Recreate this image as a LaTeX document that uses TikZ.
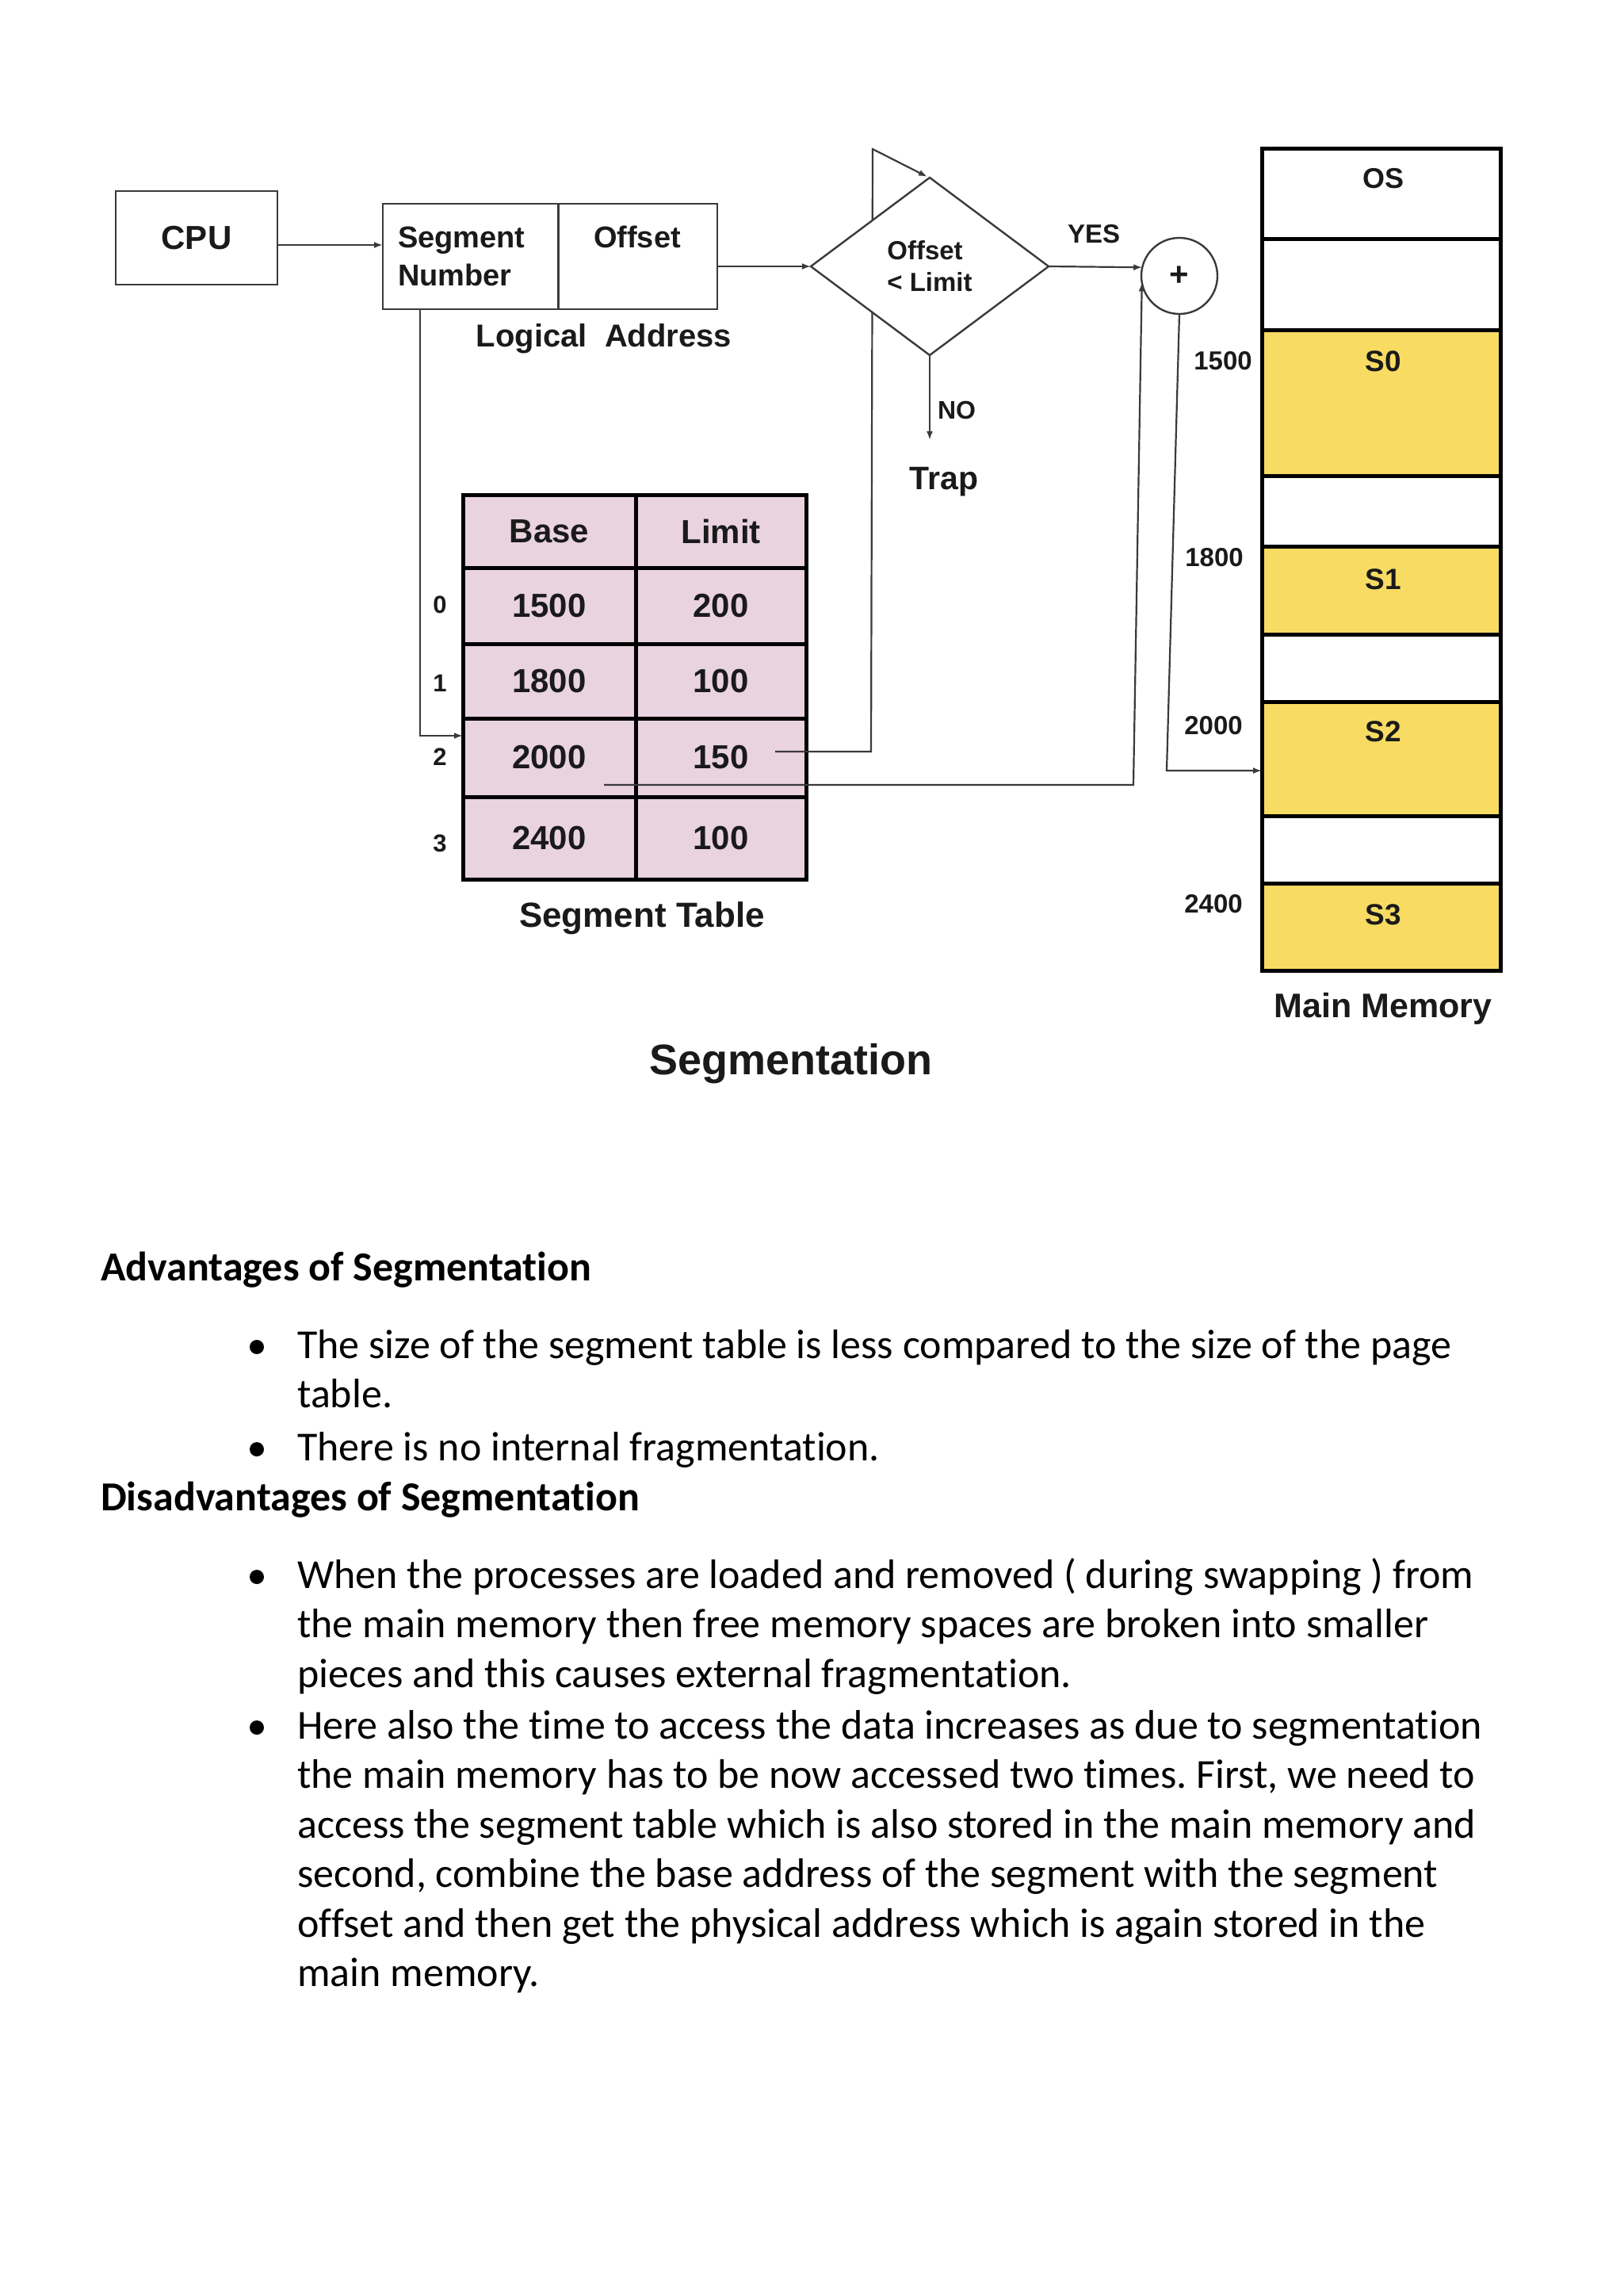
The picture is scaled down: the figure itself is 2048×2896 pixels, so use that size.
\documentclass[tikz,border=0pt]{standalone}
\usepackage{fontspec}
\setmainfont{Carlito}[Ligatures=NoCommon]
\newfontfamily\arialf{Liberation Sans}
\usetikzlibrary{shapes.geometric,arrows.meta}
\newcommand\fsz[2]{\fontsize{#1}{#2}\selectfont}
\definecolor{memyel}{HTML}{F7DB63}
\definecolor{tblpink}{HTML}{E9D3DF}
\definecolor{ink}{HTML}{1A1A1A}
\definecolor{wire}{HTML}{3A3A3A}
\frenchspacing
\begin{document}
\begin{tikzpicture}[x=1pt,y=-1pt,
  arr/.style={draw=wire, line width=2.2pt, -{Latex[length=11pt,width=8pt]}},
  dgm/.style={font=\arialf\bfseries, text=ink, inner sep=0pt, outer sep=0pt},
  box/.style={draw=wire, line width=2.6pt, rectangle, inner sep=0pt, outer sep=0pt},
  cell/.style={draw=black, line width=5pt, fill=tblpink, rectangle, inner sep=0pt, outer sep=0pt, font=\arialf\bfseries\fsz{42}{50}, text=ink},
  memb/.style={draw=black, line width=5pt, rectangle, minimum width=301pt, inner sep=0pt, outer sep=0pt},
  body/.style={font=\fsz{52}{62}, anchor=base west, inner sep=0pt, text=black},
  head/.style={font=\bfseries\fsz{52}{62}, anchor=base west, inner sep=0pt, text=black},
  bul/.style={circle, fill=black, minimum size=18pt, inner sep=0pt},
]
\fill[white] (0,0) rectangle (2048,2896);
\useasboundingbox (0,0) rectangle (2048,2896);

% ---------- main memory ----------
\node[memb, fill=white,  minimum height=114pt] (mOS) at (1742.5,244) {};
\node[memb, fill=white,  minimum height=115pt] (mE1) at (1742.5,358.5) {};
\node[memb, fill=memyel, minimum height=184pt] (mS0) at (1742.5,508) {};
\node[memb, fill=white,  minimum height=89pt]  (mE2) at (1742.5,644.5) {};
\node[memb, fill=memyel, minimum height=111pt] (mS1) at (1742.5,744.5) {};
\node[memb, fill=white,  minimum height=85pt]  (mE3) at (1742.5,842.5) {};
\node[memb, fill=memyel, minimum height=144pt] (mS2) at (1742.5,957) {};
\node[memb, fill=white,  minimum height=85pt]  (mE4) at (1742.5,1071.5) {};
\node[memb, fill=memyel, minimum height=110pt] (mS3) at (1742.5,1169) {};
\node[dgm, font=\arialf\bfseries\fsz{36}{40}] (lOS) at (1745,225) {OS};
\node[dgm, font=\arialf\bfseries\fsz{37}{40}] (lS0) at (1745,456) {S0};
\node[dgm, font=\arialf\bfseries\fsz{37}{40}] (lS1) at (1745,731) {S1};
\node[dgm, font=\arialf\bfseries\fsz{37}{40}] (lS2) at (1745,923) {S2};
\node[dgm, font=\arialf\bfseries\fsz{37}{40}] (lS3) at (1745,1154) {S3};
\node[dgm, font=\arialf\bfseries\fsz{33}{40}] (a1500) at (1543,455) {1500};
\node[dgm, font=\arialf\bfseries\fsz{33}{40}] (a1800) at (1532,703) {1800};
\node[dgm, font=\arialf\bfseries\fsz{33}{40}] (a2000) at (1531,915) {2000};
\node[dgm, font=\arialf\bfseries\fsz{33}{40}] (a2400) at (1531,1140) {2400};
\node[dgm, font=\arialf\bfseries\fsz{43}{50}, anchor=base] (mmcap) at (1745,1283) {Main Memory};

% ---------- segment table ----------
\node[cell, minimum width=218pt, minimum height=92pt]  (hB) at (693,670) {Base};
\node[cell, minimum width=215pt, minimum height=92pt]  (hL) at (909.5,670) {Limit};
\node[cell, minimum width=218pt, minimum height=96pt]  (r0b) at (693,764) {1500};
\node[cell, minimum width=215pt, minimum height=96pt]  (r0l) at (909.5,764) {200};
\node[cell, minimum width=218pt, minimum height=94pt]  (r1b) at (693,859) {1800};
\node[cell, minimum width=215pt, minimum height=94pt]  (r1l) at (909.5,859) {100};
\node[cell, minimum width=218pt, minimum height=99pt]  (r2b) at (693,955.5) {2000};
\node[cell, minimum width=215pt, minimum height=99pt]  (r2l) at (909.5,955.5) {150};
\node[cell, minimum width=218pt, minimum height=104pt] (r3b) at (693,1057) {2400};
\node[cell, minimum width=215pt, minimum height=104pt] (r3l) at (909.5,1057) {100};
\node[dgm, font=\arialf\bfseries\fsz{31}{36}] (i0) at (555,763) {0};
\node[dgm, font=\arialf\bfseries\fsz{31}{36}] (i1) at (555,862) {1};
\node[dgm, font=\arialf\bfseries\fsz{31}{36}] (i2) at (555,955) {2};
\node[dgm, font=\arialf\bfseries\fsz{31}{36}] (i3) at (555,1064) {3};
\node[dgm, font=\arialf\bfseries\fsz{44}{50}, anchor=base] (stcap) at (810,1169) {Segment Table};

% ---------- CPU and logical address ----------
\node[box, minimum width=204pt, minimum height=118pt, font=\arialf\bfseries\fsz{42}{50}, text=ink] (cpu) at (248,300) {CPU};
\node[box, minimum width=222pt, minimum height=133pt] (seg) at (594,323.5) {};
\node[box, minimum width=201pt, minimum height=133pt] (off) at (804.5,323.5) {};
\node[dgm, font=\arialf\bfseries\fsz{38}{48}, anchor=base west] (tseg) at (502,312) {Segment};
\node[dgm, font=\arialf\bfseries\fsz{38}{48}, anchor=base west] (tnum) at (502,360) {Number};
\node[dgm, font=\arialf\bfseries\fsz{38}{48}, anchor=base] (toff) at (804,312) {Offset};
\node[dgm, font=\arialf\bfseries\fsz{40}{48}, anchor=base] (lacap) at (762,437) {Logical\ \ Address};

% ---------- coordinates for bends ----------
\coordinate (y309) at (0,309);
\coordinate (b1) at (530,928);
\coordinate (l2) at (978,948);
\coordinate (c1) at (1099,948);
\coordinate (c2) at (1101,188);
\coordinate (b2) at (762,990);
\coordinate (c4) at (1430,990);
\coordinate (c3) at (1472,972);
\coordinate (noend) at (0,555);

% ---------- connectors (under diamond) ----------
\draw[arr] (cpu.east |- y309) -- (seg.west |- y309);
\draw[arr] (seg.south -| b1) -- (b1) -- (b1 -| r2b.west);
\draw[arr] (l2) -- (c1) -- (c2) -- (1170,223);

% ---------- diamond and adder ----------
\node[diamond, draw=wire, line width=2.4pt, fill=white, minimum width=300pt, minimum height=224pt, inner sep=0pt, outer sep=0pt,
      align=left, font=\arialf\bfseries\fsz{33}{40}, text=ink] (dia) at (1173,336) {Offset\\< Limit};
\node[circle, draw=wire, line width=2.4pt, fill=white, minimum size=96pt, inner sep=0pt, outer sep=0pt,
      font=\arialf\bfseries\fsz{42}{40}, text=ink] (circ) at (1488,348) {+};

\draw[arr] (off.east |- dia.west) -- (dia.west);
\draw[arr] (dia.east) -- (circ.167);
\draw[arr] (dia.south) -- (dia.south |- noend);
\draw[arr] (b2) -- (c4) -- (circ.190);
\draw[arr] (circ.south) -- (c3) -- (c3 -| mS2.west);

\node[dgm, font=\arialf\bfseries\fsz{33}{40}] (yes) at (1380,295) {YES};
\node[dgm, font=\arialf\bfseries\fsz{32}{40}, anchor=base] (no) at (1207,528) {NO};
\node[dgm, font=\arialf\bfseries\fsz{41}{48}, anchor=base] (trap) at (1191,617) {Trap};

\node[dgm, font=\arialf\bfseries\fsz{54}{60}, anchor=base] (title) at (998,1355) {Segmentation};

% ---------- text ----------
\node[head] (h1) at (127,1615) {Advantages of Segmentation};
\node[bul] (d1) at (324,1699) {};
\node[body] (t1) at (375,1713) {The size of the segment table is less compared to the size of the page};
\node[body] (t2) at (375,1775) {table.};
\node[bul] (d2) at (324,1828) {};
\node[body] (t3) at (375,1842) {There is no internal fragmentation.};
\node[head] (h2) at (127,1905) {Disadvantages of Segmentation};
\node[bul] (d3) at (324,1989) {};
\node[body] (t4) at (375,2003) {When the processes are loaded and removed ( during swapping ) from};
\node[body] (t5) at (375,2065) {the main memory then free memory spaces are broken into smaller};
\node[body] (t6) at (375,2128) {pieces and this causes external fragmentation.};
\node[bul] (d4) at (324,2179) {};
\node[body] (t7) at (375,2193) {Here also the time to access the data increases as due to segmentation};
\node[body] (t8) at (375,2255) {the main memory has to be now accessed two times. First, we need to};
\node[body] (t9) at (375,2318) {access the segment table which is also stored in the main memory and};
\node[body] (t10) at (375,2380) {second, combine the base address of the segment with the segment};
\node[body] (t11) at (375,2443) {offset and then get the physical address which is again stored in the};
\node[body] (t12) at (375,2505) {main memory.};
\end{tikzpicture}
\end{document}
